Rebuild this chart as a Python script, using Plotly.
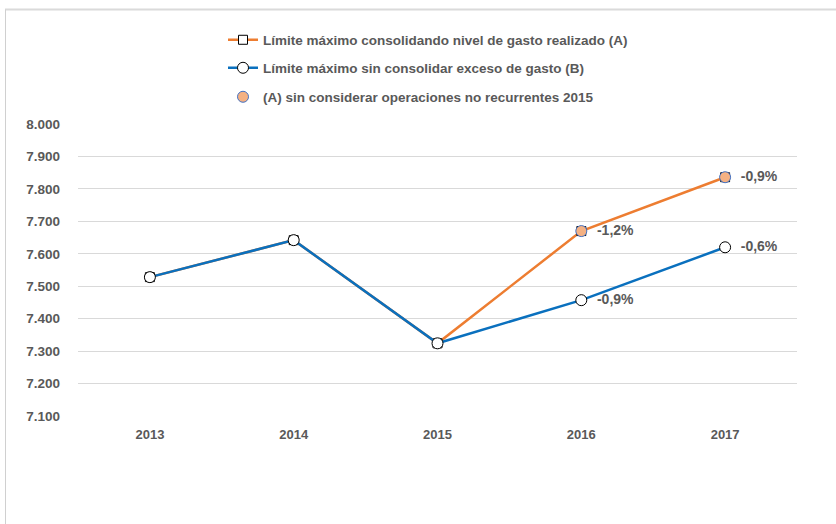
import plotly.graph_objects as go

years = ["2013", "2014", "2015", "2016", "2017"]
serie_a = [7528, 7642, 7324, 7670, 7836]
serie_b = [7528, 7642, 7324, 7457, 7620]
serie_c = [None, None, None, 7670, 7836]
labels_b = ["", "", "", "-0,9%", "-0,6%"]
labels_c = ["", "", "", "-1,2%", "-0,9%"]
name_a = "Límite máximo consolidando nivel de gasto realizado (A)"
name_b = "Límite máximo sin consolidar exceso de gasto (B)"
name_c = "(A) sin considerar operaciones no recurrentes 2015"

FONT = "Liberation Sans"
GRAY = "#595959"
ORANGE = "#ED7D31"
BLUE = "#0A70BE"

fig = go.Figure()
fig.add_trace(go.Scatter(
    x=years, y=serie_a, name=name_a, mode="lines+markers",
    line=dict(color=ORANGE, width=2.5),
    marker=dict(symbol="square", size=9, color="white", line=dict(color="black", width=1)),
    legend="legend", cliponaxis=False,
))
fig.add_trace(go.Scatter(
    x=years, y=serie_b, name=name_b, mode="lines+markers+text",
    line=dict(color=BLUE, width=2.5),
    marker=dict(symbol="circle", size=11, color="white", line=dict(color="black", width=1)),
    text=labels_b, texttemplate="  %{text}", textposition="middle right",
    textfont=dict(family=FONT, size=14, color=GRAY, weight="bold"),
    legend="legend2", cliponaxis=False,
))
fig.add_trace(go.Scatter(
    x=years, y=serie_c, name=name_c, mode="markers+text",
    marker=dict(symbol="circle", size=11, color="#F4B183", line=dict(color="#4472C4", width=1)),
    text=labels_c, texttemplate="  %{text}", textposition="middle right",
    textfont=dict(family=FONT, size=14, color=GRAY, weight="bold"),
    legend="legend3", cliponaxis=False,
))

leg_common = dict(
    xanchor="left", yanchor="middle", xref="paper", yref="paper",
    bgcolor="rgba(0,0,0,0)",
    font=dict(family=FONT, size=13.5, color=GRAY, weight="bold"),
    itemwidth=30,
)
L, R, T, B = 78, 39, 124, 108
W, H = 836, 524
pw, ph = W - L - R, H - T - B

def px_x(x):
    return (x - L) / pw

def px_y(y):
    return (H - B - y) / ph

fig.update_layout(
    width=W, height=H,
    margin=dict(l=L, r=R, t=T, b=B),
    paper_bgcolor="white", plot_bgcolor="white",
    separators=",.",
    legend=dict(x=px_x(223), y=px_y(40), **leg_common),
    legend2=dict(x=px_x(223), y=px_y(68), **leg_common),
    legend3=dict(x=px_x(223), y=px_y(97), **leg_common),
    xaxis=dict(
        type="category", range=[-0.5, 4.5],
        showgrid=False, showline=False, zeroline=False,
        tickfont=dict(family=FONT, size=13, color=GRAY, weight="bold"),
        ticks="", ticklabelstandoff=9,
    ),
    yaxis=dict(
        range=[7100, 8000], dtick=100, tickformat=",.0f",
        showgrid=True, gridcolor="#D9D9D9", gridwidth=1,
        zeroline=False, showline=False, ticks="",
        tickfont=dict(family=FONT, size=13.5, color=GRAY, weight="bold"),
        ticklabelstandoff=17,
    ),
    showlegend=True,
    shapes=[
        dict(type="line", xref="paper", yref="paper",
             x0=px_x(5), x1=px_x(836), y0=px_y(9.5), y1=px_y(9.5),
             line=dict(color="#DADADA", width=2)),
        dict(type="line", xref="paper", yref="paper",
             x0=px_x(5.5), x1=px_x(5.5), y0=px_y(9.5), y1=px_y(524),
             line=dict(color="#D0D0D0", width=1)),
    ],
)

fig.write_html(
    "out.html",
    config={"displayModeBar": False},
    post_script="document.body.style.margin='0';document.body.style.overflow='hidden';",
)
